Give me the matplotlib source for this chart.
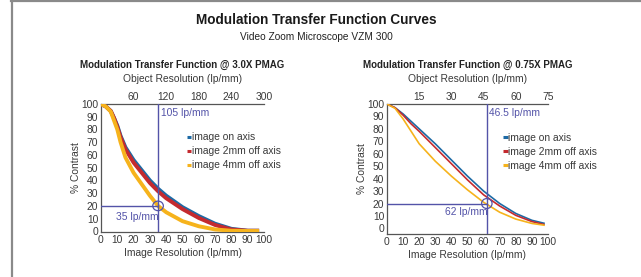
import matplotlib
matplotlib.use("Agg")
import matplotlib.pyplot as plt
from matplotlib.lines import Line2D
from matplotlib.patches import Ellipse

plt.rcParams['font.family'] = ['Liberation Sans', 'DejaVu Sans']

# ---------------- data ----------------
series_names = ["image on axis", "image 2mm off axis", "image 4mm off axis"]
series_colors = ["#1d6aa5", "#c42a2f", "#f6b31c"]

left_x = [0, 3, 6, 8, 10, 12, 15, 20, 25, 30, 35, 40, 50, 60, 70, 80, 90, 97]
left_blue = [100, 98, 94.5, 89, 83, 75, 66, 56, 48, 40, 33.5, 28, 19, 12, 6, 2, 0.5, 0.5]
left_red = [100, 98, 94.5, 89, 82, 74, 64.5, 54, 46, 38, 31.5, 26, 17.5, 10.5, 5, 1.5, 0.5, 0.5]
left_yellow = [100, 98, 94, 87, 80, 70, 58, 46, 37, 28, 20, 15, 8, 4, 1.5, 0.5, 0.3, 0.3]

right_x = [0, 5, 10, 15, 20, 30, 40, 50, 60, 70, 80, 90, 98]
right_blue = [100, 97, 92, 86, 80, 68, 55, 42, 30, 20, 12, 6.5, 4]
right_red = [100, 97, 91, 84, 78, 65, 52, 39, 27, 18, 10.5, 5.5, 3]
right_yellow = [100, 96.5, 88, 78, 68, 54, 42, 31, 21, 13, 7.5, 4, 2.5]

left_mark_x, left_mark_y = 35, 20
right_mark_x, right_mark_y = 62, 20
left_obj_label, left_img_label = "105 lp/mm", "35 lp/mm"
right_obj_label, right_img_label = "46.5 lp/mm", "62 lp/mm"

left_factor = 3.0
right_factor = 0.75
left_top_ticks = [60, 120, 180, 240, 300]
right_top_ticks = [15, 30, 45, 60, 75]
x_ticks = list(range(0, 101, 10))
y_ticks = list(range(0, 101, 10))

main_title = "Modulation Transfer Function Curves"
sub_title = "Video Zoom Microscope VZM 300"
left_title = "Modulation Transfer Function @ 3.0X PMAG"
right_title = "Modulation Transfer Function @ 0.75X PMAG"

# ---------------- figure ----------------
W, H = 641, 277
fig = plt.figure(figsize=(W / 100, H / 100), dpi=100)
fig.patch.set_facecolor("white")

def fx(px):
    return px / W

def fy(py):
    return 1 - py / H

ANN = "#5353a8"
TXT = "#3a3a3a"
SPINE = "#555555"
FS = 7.4


def make_panel(rect, xs, ys_list, lw, ylim, factor, top_ticks, title,
               mark_x, mark_y, obj_label, img_label, obj_pos, img_pos, circ_w, circ_h, leg_x):
    ax = fig.add_axes(rect)
    for ys, c, n in zip(ys_list, series_colors, series_names):
        ax.plot(xs, ys, color=c, lw=lw, label=n, solid_capstyle="butt", zorder=3)
    ax.set_xlim(0, 100)
    ax.set_ylim(*ylim)
    ax.set_xticks(x_ticks)
    ax.set_yticks(y_ticks)
    ax.tick_params(length=0, labelsize=FS, colors=TXT, pad=2)
    ax.spines["right"].set_visible(False)
    for s in ["left", "top", "bottom"]:
        ax.spines[s].set_color(SPINE)
        ax.spines[s].set_linewidth(0.9)
    ax.set_xlabel("Image Resolution (lp/mm)", fontsize=FS, color=TXT, labelpad=2.5)
    ax.set_ylabel("% Contrast", fontsize=FS, color=TXT, labelpad=0)
    sec = ax.secondary_xaxis("top", functions=(lambda v: v * factor, lambda v: v / factor))
    sec.set_xticks(top_ticks)
    sec.tick_params(length=0, labelsize=FS, colors=TXT, pad=1.5)
    sec.spines["top"].set_visible(False)
    sec.set_xlabel("Object Resolution (lp/mm)", fontsize=FS, color=TXT, labelpad=7)
    ax.set_title(title, fontsize=7.0, fontweight="bold", color="#222222", pad=26)

    # annotation lines
    ax.plot([0, mark_x], [mark_y, mark_y], color=ANN, lw=1.0, zorder=4)
    ax.axvline(mark_x, color=ANN, lw=1.0, zorder=4)
    ax.add_patch(Ellipse((mark_x, mark_y), circ_w, circ_h, fill=False, ec=ANN, lw=0.9, zorder=5))
    ax.text(obj_pos[0], obj_pos[1], obj_label, color=ANN, fontsize=FS, ha="left", va="center")
    ax.text(img_pos[0], img_pos[1], img_label, color=ANN, fontsize=FS, ha="right", va="center")

    leg = ax.legend(loc="upper left", bbox_to_anchor=(leg_x, 0.78), frameon=False,
                    handlelength=0.45, handletextpad=0.05, labelspacing=0.40,
                    fontsize=FS, borderaxespad=0, borderpad=0)
    for line in leg.get_lines():
        line.set_linewidth(2.2)
    for t in leg.get_texts():
        t.set_color(TXT)
    return ax


make_panel([fx(101), fy(232), fx(264) - fx(101), fy(104) - fy(232)],
           left_x, [left_blue, left_red, left_yellow], 2.8, (-0.5, 100),
           left_factor, left_top_ticks, left_title,
           left_mark_x, left_mark_y, left_obj_label, left_img_label,
           (37, 93), (35.5, 11.5), 6.5, 7.5, 0.525)

make_panel([fx(387), fy(234), fx(548) - fx(387), fy(104) - fy(234)],
           right_x, [right_blue, right_red, right_yellow], 1.2, (-4.5, 100),
           right_factor, right_top_ticks, right_title,
           right_mark_x, right_mark_y, right_obj_label, right_img_label,
           (63.5, 92.5), (62.5, 13), 6.5, 8, 0.72)

fig.text(fx(316), fy(20), main_title, ha="center", va="center", fontsize=9.8,
         fontweight="bold", color="#1a1a1a")
fig.text(fx(316), fy(37.5), sub_title, ha="center", va="center", fontsize=7.3, color="#222222")

# page border (top and left)
fig.add_artist(Line2D([fx(11), 1], [fy(0.8), fy(0.8)], color="#8a8a8a", lw=1.6))
fig.add_artist(Line2D([fx(11.5), fx(11.5)], [0, 1], color="#8a8a8a", lw=1.6))

fig.savefig("out.png", dpi=100, facecolor="white")
